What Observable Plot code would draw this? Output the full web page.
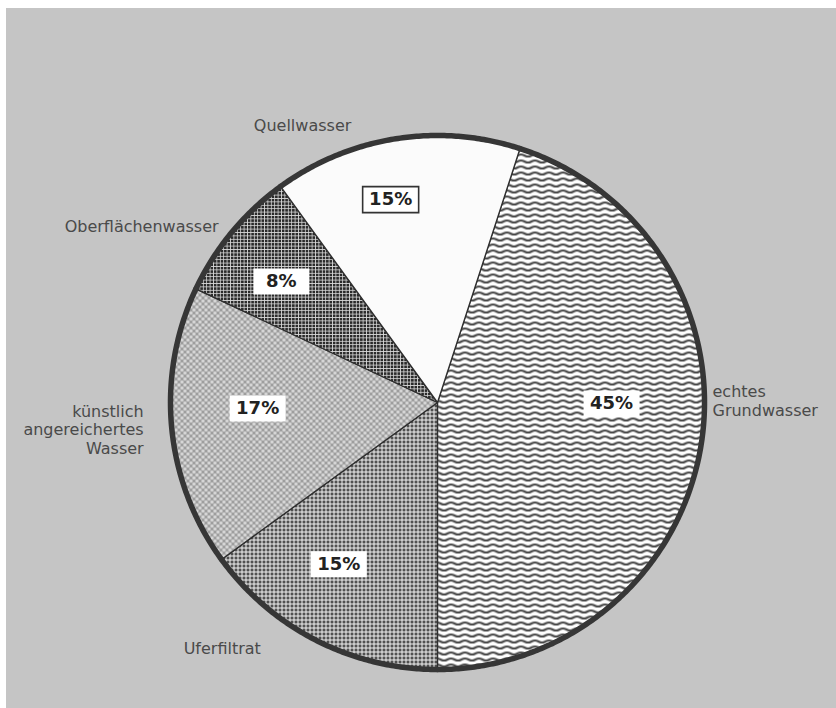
<!DOCTYPE html>
<html><head><meta charset="utf-8">
<script src="https://cdn.jsdelivr.net/npm/d3@7"></script>
<script src="https://cdn.jsdelivr.net/npm/@observablehq/plot@0.6"></script>
<style>
html,body{margin:0;padding:0;background:#fff;}
#wrap{position:absolute;left:6px;top:8px;width:830px;height:700px;background:#c5c5c5;overflow:hidden;}
</style></head><body><div id="wrap"></div>
<script>
// ---- data ----
const categories = ["echtes Grundwasser", "Uferfiltrat", "künstlich angereichertes Wasser", "Oberflächenwasser", "Quellwasser"];
const shares = [45, 15, 17, 8, 15];
const outerTexts = ["echtes\nGrundwasser", "Uferfiltrat", "künstlich\nangereichertes\nWasser", "Oberflächenwasser", "Quellwasser"];
const pctLabels = ["45%", "15%", "17%", "8%", "15%"];

// ---- layout / style (not data) ----
const patterns = ["wave", "grid", "stipple", "hatch", "plain"];
const outerAngle = [89.6, 221.2, 264.8, 308.8, 334.1];
const outerDist = [1.03, 1.224, 1.105, 1.052, 1.157];
const outerAnchor = ["start", "middle", "end", "end", "middle"];
const innerAngle = [90.3, 211.4, 268.1, 307.8, 347];
const innerDist = [0.652, 0.71, 0.674, 0.74, 0.78];
const boxed = [false, false, false, false, true];

const rad = d => d * Math.PI / 180;
const arcs = d3.pie().sort(null).startAngle(rad(18)).endAngle(rad(378))(shares);
const slicePts = [], rimPts = [];
arcs.forEach((a, i) => {
  const n = Math.max(2, Math.ceil((a.endAngle - a.startAngle) / rad(0.5)));
  const arc = d3.range(n + 1).map(k => {
    const t = a.startAngle + (a.endAngle - a.startAngle) * k / n;
    return {i, x: Math.sin(t), y: Math.cos(t)};
  });
  slicePts.push({i, x: 0, y: 0}, ...arc, {i, x: 0, y: 0});
  rimPts.push(...arc);
});
const inner = categories.map((c, i) => ({
  i, x: innerDist[i] * Math.sin(rad(innerAngle[i])), y: innerDist[i] * Math.cos(rad(innerAngle[i])),
  text: pctLabels[i], boxed: boxed[i]
}));
const outer = categories.map((c, i) => ({
  i, x: outerDist[i] * Math.sin(rad(outerAngle[i])), y: outerDist[i] * Math.cos(rad(outerAngle[i])),
  text: outerTexts[i], anchor: outerAnchor[i]
}));

const boxSymbol = {draw(ctx) { const w = 56, h = 26;
  ctx.moveTo(-w/2, -h/2); ctx.lineTo(w/2, -h/2); ctx.lineTo(w/2, h/2); ctx.lineTo(-w/2, h/2); ctx.closePath(); }};

const labelStyle = {x: "x", y: "y", text: "text", fontSize: 16, fontFamily: "DejaVu Sans", fill: "#4a4a4a", lineHeight: 1.15};

const chart = Plot.plot({
  width: 830, height: 700,
  marginLeft: 164, marginRight: 132, marginTop: 127, marginBottom: 39,
  x: {domain: [-1, 1], axis: null},
  y: {domain: [-1, 1], axis: null},
  style: {background: "transparent", overflow: "visible"},
  marks: [
    ...categories.map((c, i) => Plot.line(slicePts.filter(p => p.i === i), {
      x: "x", y: "y", fill: `url(#${patterns[i]})`, stroke: "#2e2e2e", strokeWidth: 1.3, strokeLinejoin: "round"
    })),
    Plot.line(rimPts, {x: "x", y: "y", z: "i", stroke: "#363636", strokeWidth: 5.5, strokeLinecap: "round"}),
    Plot.dot(inner, {filter: d => !d.boxed, x: "x", y: "y", symbol: boxSymbol, fill: "#fff", stroke: "none"}),
    Plot.dot(inner, {filter: d => d.boxed, x: "x", y: "y", symbol: boxSymbol, fill: "#fff", stroke: "#333", strokeWidth: 1.6}),
    Plot.text(inner, {x: "x", y: "y", text: "text", fontSize: 18, fontWeight: "bold", fontFamily: "DejaVu Sans", fill: "#222"}),
    Plot.text(outer, {...labelStyle, filter: d => d.anchor === "start", textAnchor: "start"}),
    Plot.text(outer, {...labelStyle, filter: d => d.anchor === "middle", textAnchor: "middle"}),
    Plot.text(outer, {...labelStyle, filter: d => d.anchor === "end", textAnchor: "end"})
  ]
});

const defs = d3.create("svg:defs");
defs.html(`
<pattern id="wave" width="14" height="6" patternUnits="userSpaceOnUse">
  <rect width="14" height="6" fill="#fff"/>
  <path d="M-7,3 Q-3.5,0.9 0,3 T7,3 T14,3 T21,3" fill="none" stroke="#474747" stroke-width="2.1"/>
</pattern>
<pattern id="grid" width="4" height="4" patternUnits="userSpaceOnUse">
  <rect width="4" height="4" fill="#f2f2f2"/>
  <rect width="3" height="3" fill="#505050"/>
</pattern>
<pattern id="hatch" width="3.4" height="3.4" patternUnits="userSpaceOnUse">
  <rect width="3.4" height="3.4" fill="#d8d8d8"/>
  <rect width="2.6" height="2.6" fill="#2a2a2a"/>
</pattern>
<pattern id="stipple" width="6" height="6" patternUnits="userSpaceOnUse">
  <rect width="6" height="6" fill="#b0b0b0"/>
  <circle cx="1.5" cy="1.5" r="1.1" fill="#fafafa"/>
  <circle cx="4.5" cy="4.5" r="1.1" fill="#fafafa"/>
  <circle cx="4.5" cy="1.5" r="0.55" fill="#5a5a5a"/>
  <circle cx="1.5" cy="4.5" r="0.55" fill="#5a5a5a"/>
</pattern>
<pattern id="plain" width="10" height="10" patternUnits="userSpaceOnUse">
  <rect width="10" height="10" fill="#fbfbfb"/>
</pattern>`);
chart.insertBefore(defs.node(), chart.firstChild);
document.getElementById("wrap").append(chart);
</script></body></html>
